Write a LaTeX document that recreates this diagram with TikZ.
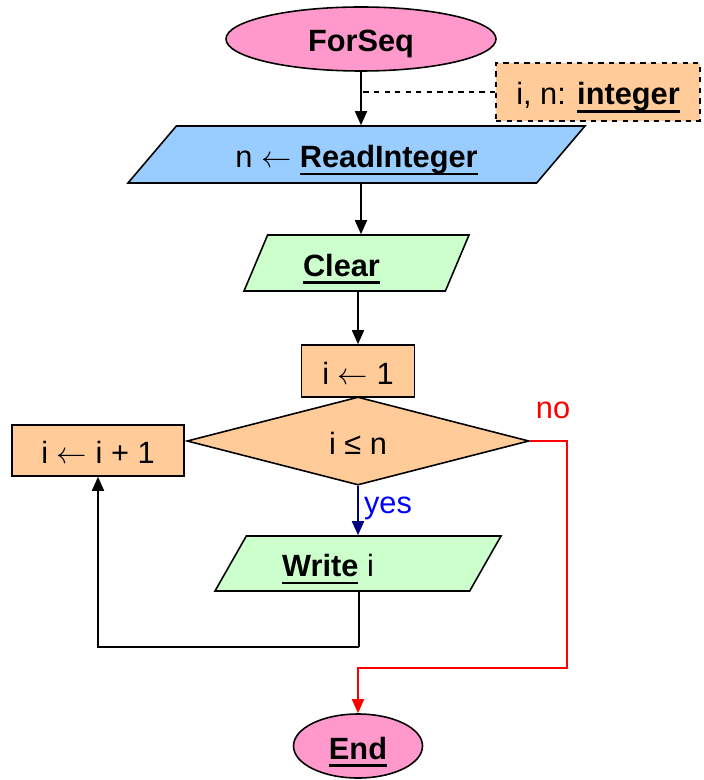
\documentclass[tikz,border=0pt]{standalone}
\usepackage{fontspec}
\setmainfont{Liberation Sans}
\usetikzlibrary{shapes.geometric,arrows.meta}
\definecolor{termpink}{HTML}{FF99CC}
\definecolor{readblue}{HTML}{99CCFF}
\definecolor{outgreen}{HTML}{CCFFCC}
\definecolor{procorange}{HTML}{FFCC99}
\definecolor{yesnavy}{HTML}{000080}
\tikzset{
  every node/.style={font=\fontsize{17.5}{21}\selectfont},
  boxtext/.style={text height=16pt, text depth=1.2pt},
  terminal/.style={ellipse, draw, fill=termpink, line width=0.9pt, inner sep=0pt, boxtext},
  proc/.style={rectangle, draw, fill=procorange, line width=0.9pt, inner sep=0pt, boxtext},
  decl/.style={rectangle, draw, dashed, fill=procorange, line width=0.9pt, inner sep=0pt, boxtext},
  io/.style={trapezium, draw, line width=0.9pt, inner sep=0pt, trapezium stretches body, boxtext},
  test/.style={diamond, draw, fill=procorange, line width=0.9pt, inner sep=0pt, boxtext},
  link/.style={line width=1pt}
}
\newsavebox{\kwbox}
\newcommand{\kw}[1]{\sbox{\kwbox}{\textbf{#1}}\rlap{\rule[-4.5pt]{\wd\kwbox}{1.5pt}}\usebox{\kwbox}}
\begin{document}
\begin{tikzpicture}[>={Triangle[length=0.28cm,width=0.24cm]}]
  \useasboundingbox (0,0) rectangle (14.06,-15.6);
  % shapes
  \node[terminal, minimum width=5.4cm, minimum height=1.28cm] (forseq) at (7.22,-0.78) {\textbf{ForSeq}};
  \node[decl, minimum width=4.08cm, minimum height=1.16cm] (vars) at (11.96,-1.84) {i, n: \kw{integer}};
  \node[io, fill=readblue, trapezium left angle=32, trapezium right angle=148,
        minimum width=9.14cm, minimum height=1.14cm] (read) at (7.13,-3.09) {n $\leftarrow$ \kw{ReadInteger}};
  \node[io, fill=outgreen, trapezium left angle=52, trapezium right angle=128,
        minimum width=4.5cm, minimum height=1.12cm] (clear) at (7.13,-5.26) {\kw{Clear}\hspace*{0.6cm}};
  \node[proc, minimum width=2.26cm, minimum height=1.04cm] (init) at (7.16,-7.42) {i $\leftarrow$ 1};
  \node[test, minimum width=6.84cm, minimum height=1.7cm] (cond) at (7.16,-8.82) {i ≤ n};
  \node[proc, minimum width=3.44cm, minimum height=1.02cm] (incr) at (1.96,-9.01) {i $\leftarrow$ i + 1};
  \node[io, fill=outgreen, trapezium left angle=44, trapezium right angle=136,
        minimum width=5.72cm, minimum height=1.1cm] (write) at (7.16,-11.27) {\kw{Write} i\hspace*{1.2cm}};
  \node[terminal, minimum width=2.58cm, minimum height=1.28cm] (end) at (7.16,-14.92) {\kw{End}};
  % labels
  \node[text=red] (nolbl) at (11.06,-8.2) {no};
  \node[text=blue] (yeslbl) at (7.76,-10.16) {yes};
  % corners
  \coordinate (loopturn) at (7.18,-12.94);
  \coordinate (nocorner) at (11.34,-13.36);
  % connectors
  \draw[link,->] (forseq.south) -- (forseq.south |- read.north);
  \draw[link,dashed] (vars.west) -- (vars.west -| forseq.south);
  \draw[link,->] (read.south -| forseq.south) -- (forseq.south |- clear.north);
  \draw[link,->] (clear.south -| init.north) -- (init.north);
  \draw[link,yesnavy,->] (cond.south) -- (write.north);
  \draw[link] (write.south -| loopturn) -- (loopturn);
  \draw[link,->] (loopturn) -| (incr.south);
  \draw[link,red,->] (cond.east) -| (nocorner) -| (end.north);
\end{tikzpicture}
\end{document}
